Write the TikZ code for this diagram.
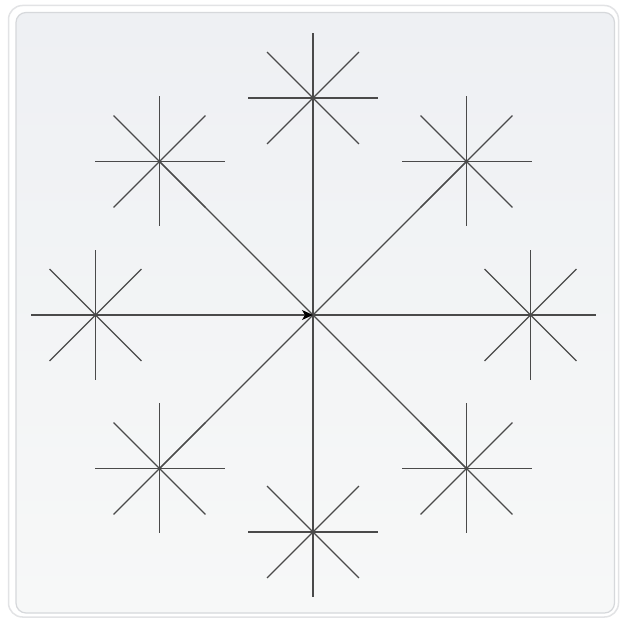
\documentclass[tikz,border=0pt]{standalone}
\usetikzlibrary{arrows.meta}
\definecolor{ray}{HTML}{4A4A4A}
\definecolor{bgtop}{HTML}{EEF0F3}
\definecolor{bgbot}{HTML}{F7F8F8}
\definecolor{frameout}{HTML}{E2E3E5}
\definecolor{framein}{HTML}{D6D8DB}
\tikzset{
  rayline/.style={draw=ray, line width=1.1pt},
  link/.style={draw=ray, line width=1.1pt},
  linkarrow/.style={link, -{Stealth[length=11pt,width=10pt,inset=3pt,fill=black,color=black]}},
}
\newcommand{\starrays}[1]{%
  \foreach \a in {0,45,...,315}{\draw[rayline] (#1) -- ++(\a:65);}%
}
\begin{document}
\begin{tikzpicture}[x=1pt,y=-1pt]
\useasboundingbox (0,0) rectangle (622,620);
\draw[frameout, fill=white, line width=1.5pt, rounded corners=14pt] (8.5,5.5) rectangle (618.5,617);
\shade[top color=bgtop, bottom color=bgbot, rounded corners=10pt] (16,12.5) rectangle (614.5,613);
\draw[framein, line width=1.2pt, rounded corners=10pt] (16,12.5) rectangle (614.5,613);
\coordinate (c) at (313,315);
\coordinate (sN) at (313,98);
\coordinate (sNE) at (466.5,161.5);
\coordinate (sE) at (530.5,315);
\coordinate (sSE) at (466.5,468.5);
\coordinate (sS) at (313,532);
\coordinate (sSW) at (159.5,468.5);
\coordinate (sW) at (95.5,315);
\coordinate (sNW) at (159.5,161.5);
\foreach \s in {sN,sNE,sE,sSE,sS,sSW,sW,sNW}{\starrays{\s}}
\foreach \s in {sN,sNE,sE,sSE,sS,sSW,sNW}{\draw[link] (\s) -- (c);}
\draw[linkarrow] (sW) -- (c);
\end{tikzpicture}
\end{document}
